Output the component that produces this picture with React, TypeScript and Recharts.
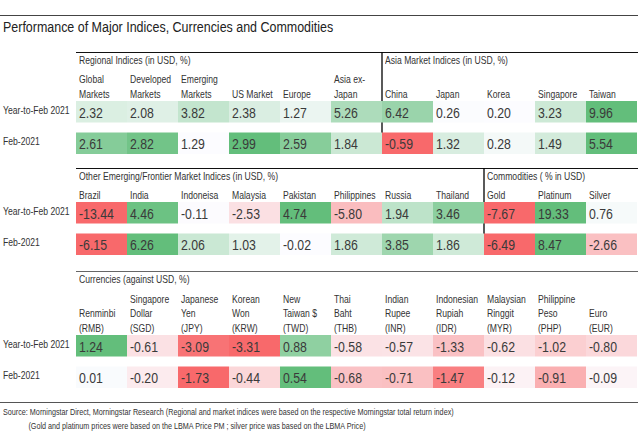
import React from "react";
import { ScatterChart, Scatter, XAxis, YAxis, ReferenceLine } from "recharts";

const W = 638;
const H = 448;
const FONT = '"Liberation Sans", Arial, sans-serif';
const SX = 0.82; // squeeze Liberation Sans into a narrow face
const TEXT = "#333333";
const PITCH = 31.5;
const CELL_W = 51;
const CELL_H = 21.5;

const ROW_LABELS = ["Year-to-Feb 2021", "Feb-2021"];

const REGIONAL_COLS = [
  "Global\nMarkets",
  "Developed\nMarkets",
  "Emerging\nMarkets",
  "US Market",
  "Europe",
  "Asia ex-\nJapan",
];
const REGIONAL_YTD = [2.32, 2.08, 3.82, 2.38, 1.27, 5.26];
const REGIONAL_FEB = [2.61, 2.82, 1.29, 2.99, 2.59, 1.84];

const ASIA_COLS = ["China", "Japan", "Korea", "Singapore", "Taiwan"];
const ASIA_YTD = [6.42, 0.26, 0.2, 3.23, 9.96];
const ASIA_FEB = [-0.59, 1.32, 0.28, 1.49, 5.54];

const EM_COLS = [
  "Brazil",
  "India",
  "Indoneisa",
  "Malaysia",
  "Pakistan",
  "Philippines",
  "Russia",
  "Thailand",
];
const EM_YTD = [-13.44, 4.46, -0.11, -2.53, 4.74, -5.8, 1.94, 3.46];
const EM_FEB = [-6.15, 6.26, 2.06, 1.03, -0.02, 1.86, 3.85, 1.86];

const COMMOD_COLS = ["Gold", "Platinum", "Silver"];
const COMMOD_YTD = [-7.67, 19.33, 0.76];
const COMMOD_FEB = [-6.49, 8.47, -2.66];

const FX_COLS = [
  "Renminbi\n(RMB)",
  "Singapore\nDollar\n(SGD)",
  "Japanese\nYen\n(JPY)",
  "Korean\nWon\n(KRW)",
  "New\nTaiwan $\n(TWD)",
  "Thai\nBaht\n(THB)",
  "Indian\nRupee\n(INR)",
  "Indonesian\nRupiah\n(IDR)",
  "Malaysian\nRinggit\n(MYR)",
  "Philippine\nPeso\n(PHP)",
  "Euro\n(EUR)",
];
const FX_YTD = [1.24, -0.61, -3.09, -3.31, 0.88, -0.58, -0.57, -1.33, -0.62, -1.02, -0.8];
const FX_FEB = [0.01, -0.2, -1.73, -0.44, 0.54, -0.68, -0.71, -1.47, -0.12, -0.91, -0.09];

// colour groups per row (each group gets its own scale, like the Excel rules)
const SECTIONS = [
  {
    top: 52,
    axisH: 44,
    rule: "#111111",
    titles: [
      { col: 0, text: "Regional Indices (in USD, %)" },
      { col: 6, text: "Asia Market Indices (in USD, %)" },
    ],
    divider: 6,
    cols: [...REGIONAL_COLS, ...ASIA_COLS],
    rows: [[[...REGIONAL_YTD, ...ASIA_YTD]], [REGIONAL_FEB, ASIA_FEB]],
  },
  {
    top: 168,
    axisH: 29,
    rule: "#111111",
    titles: [
      { col: 0, text: "Other Emerging/Frontier Market Indices (in USD, %)" },
      { col: 8, text: "Commodities ( % in USD)" },
    ],
    divider: 8,
    cols: [...EM_COLS, ...COMMOD_COLS],
    rows: [
      [EM_YTD, COMMOD_YTD],
      [EM_FEB, COMMOD_FEB],
    ],
  },
  {
    top: 271,
    axisH: 59,
    rule: "#666666",
    titles: [{ col: 0, text: "Currencies (against USD, %)" }],
    divider: null,
    cols: FX_COLS,
    rows: [[FX_YTD], [FX_FEB]],
  },
];

const GREEN = [99, 190, 123];
const WHITE = [252, 252, 255];
const RED = [248, 105, 107];

const mix = (a: number[], b: number[], t: number) => {
  const k = Math.max(0, Math.min(1, t));
  const c = a.map((v, i) => Math.round(v + (b[i] - v) * k));
  return `rgb(${c[0]},${c[1]},${c[2]})`;
};

const heat = (v: number, lo: number, hi: number) => {
  const mid = Math.max(0, lo);
  if (v >= mid) return mix(WHITE, GREEN, hi > mid ? (v - mid) / (hi - mid) : 0);
  return mix(WHITE, RED, (mid - v) / (mid - lo));
};

const NText = ({ x, y, size, fill = TEXT, children }: any) => (
  <text
    transform={`translate(${x},${y}) scale(${SX},1)`}
    dominantBaseline="central"
    fontSize={size}
    fill={fill}
    fontFamily={FONT}
  >
    {children}
  </text>
);

const Narrow = ({ style, children }: any) => (
  <div
    style={{
      position: "absolute",
      whiteSpace: "nowrap",
      transform: `scaleX(${SX})`,
      transformOrigin: "0 0",
      color: TEXT,
      ...style,
    }}
  >
    {children}
  </div>
);

const HeaderTick = (props: any) => {
  const { x, y, payload, labels } = props;
  const lines: string[] = (labels[payload.value] || "").split("\n");
  return (
    <g>
      {lines.map((ln, i) => (
        <NText key={i} x={x + 3} y={y - 2 - (lines.length - 1 - i) * 14.5} size={10.5}>
          {ln}
        </NText>
      ))}
    </g>
  );
};

const RowTick = (props: any) => {
  const { y, payload } = props;
  return (
    <NText x={3} y={y - 2} size={10.5}>
      {ROW_LABELS[payload.value]}
    </NText>
  );
};

const HeatCell = (props: any) => {
  const { cx, cy, payload } = props;
  return (
    <g>
      <rect
        x={cx - CELL_W / 2}
        y={cy - CELL_H / 2}
        width={CELL_W}
        height={CELL_H}
        fill={payload.fill}
      />
      <NText x={cx - CELL_W / 2 + 3} y={cy + 1} size={15} fill="#3a3a3a">
        {payload.value.toFixed(2)}
      </NText>
    </g>
  );
};

const Section = ({ sec }: { sec: (typeof SECTIONS)[number] }) => {
  const cells: any[] = [];
  sec.rows.forEach((groups, r) => {
    let c = 0;
    groups.forEach((g) => {
      const lo = Math.min(...g);
      const hi = Math.max(...g);
      g.forEach((v) => {
        cells.push({ x: c + 0.5, row: r, value: v, fill: heat(v, lo, hi) });
        c++;
      });
    });
  });
  const h = sec.axisH + PITCH * 2 + 3;
  const topY = -0.5 - sec.axisH / PITCH;
  const botY = 1 + CELL_H / 2 / PITCH;
  return (
    <div style={{ position: "absolute", left: 0, top: sec.top, width: W, height: h }}>
      <div
        style={{
          position: "absolute",
          left: 76,
          top: 0,
          width: W - 76,
          borderTop: `1.4px solid ${sec.rule}`,
        }}
      />
      {sec.titles.map((t) => (
        <Narrow
          key={t.text}
          style={{ left: 76 + t.col * CELL_W + 3, top: 2, fontSize: 10.5 }}
        >
          {t.text}
        </Narrow>
      ))}
      <ScatterChart
        width={W}
        height={h}
        margin={{ top: 0, right: 1, bottom: 3, left: 0 }}
        style={{ position: "absolute", left: 0, top: 0 }}
      >
        <XAxis
          type="number"
          dataKey="x"
          orientation="top"
          domain={[0, 11]}
          ticks={[0, 1, 2, 3, 4, 5, 6, 7, 8, 9, 10]}
          interval={0}
          height={sec.axisH}
          tickSize={0}
          tickMargin={0}
          axisLine={false}
          tickLine={false}
          tick={<HeaderTick labels={sec.cols} />}
        />
        <YAxis
          type="number"
          dataKey="row"
          domain={[-0.5, 1.5]}
          reversed
          ticks={[0, 1]}
          interval={0}
          width={76}
          tickSize={0}
          tickMargin={0}
          axisLine={false}
          tickLine={false}
          tick={<RowTick />}
        />
        <Scatter data={cells} shape={<HeatCell />} isAnimationActive={false} />
        {sec.divider !== null && (
          <ReferenceLine
            segment={[
              { x: sec.divider, y: topY },
              { x: sec.divider, y: botY },
            ]}
            stroke="#000"
            strokeWidth={1.3}
            ifOverflow="visible"
          />
        )}
      </ScatterChart>
    </div>
  );
};

export default function App() {
  return (
    <div
      style={{
        position: "absolute",
        left: 0,
        top: 0,
        width: W,
        height: H,
        background: "#fff",
        fontFamily: FONT,
        overflow: "hidden",
      }}
    >
      <div
        style={{
          position: "absolute",
          left: 0,
          top: 15,
          width: W,
          borderTop: "1.3px solid #444",
        }}
      />
      <Narrow style={{ left: 3, top: 18, fontSize: 15.2, color: "#222" }}>
        Performance of Major Indices, Currencies and Commodities
      </Narrow>
      {SECTIONS.map((s, i) => (
        <Section key={i} sec={s} />
      ))}
      <div
        style={{
          position: "absolute",
          left: 0,
          top: 402,
          width: W,
          borderTop: "1.3px solid #555",
        }}
      />
      <Narrow style={{ left: 3, top: 405, fontSize: 8.8, lineHeight: "14px" }}>
        Source: Morningstar Direct, Morningstar Research (Regional and market indices were based on the
        respective Morningstar total return index)
        <div style={{ paddingLeft: 31 }}>
          (Gold and platinum prices were based on the LBMA Price PM ; silver price was based on the
          LBMA Price)
        </div>
      </Narrow>
    </div>
  );
}
